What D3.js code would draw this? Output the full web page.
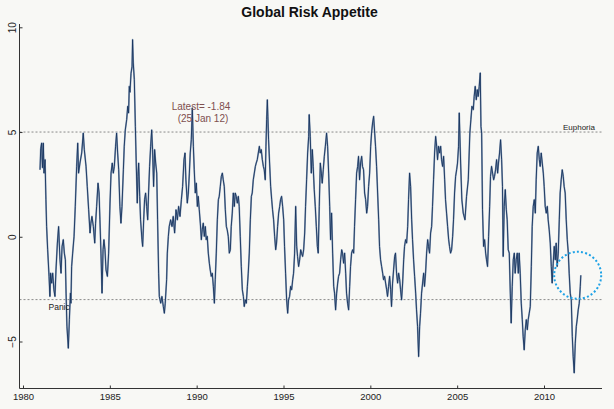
<!DOCTYPE html>
<html><head><meta charset="utf-8">
<script src="https://cdn.jsdelivr.net/npm/d3@7"></script>
<style>
html,body{margin:0;padding:0;background:#f8f8f5;}
svg{display:block;font-family:"Liberation Sans",Arial,Helvetica,sans-serif;}
</style>
</head><body>
<svg id="chart" width="614" height="409"></svg>
<script>
// ---- data (decimal years and index values) ----
const years = [
1980.98,1981.02,1981.07,1981.12,1981.17,1981.21,1981.27,1981.32,1981.36,1981.42,
1981.50,1981.55,1981.59,1981.65,1981.71,1981.78,1981.84,1981.90,1981.98,1982.05,
1982.13,1982.19,1982.25,1982.32,1982.38,1982.44,1982.48,1982.53,1982.61,1982.67,
1982.73,1982.76,1982.80,1982.86,1982.94,1983.01,1983.09,1983.15,1983.20,1983.28,
1983.38,1983.47,1983.53,1983.63,1983.70,1983.78,1983.86,1983.91,1983.97,1984.05,
1984.13,1984.18,1984.24,1984.32,1984.38,1984.43,1984.49,1984.55,1984.61,1984.66,
1984.72,1984.78,1984.86,1984.93,1985.01,1985.07,1985.14,1985.20,1985.26,1985.33,
1985.39,1985.45,1985.51,1985.58,1985.64,1985.70,1985.78,1985.83,1985.89,1985.97,
1986.03,1986.08,1986.12,1986.16,1986.22,1986.28,1986.31,1986.35,1986.41,1986.47,
1986.52,1986.58,1986.62,1986.66,1986.72,1986.77,1986.85,1986.89,1986.95,1987.00,
1987.06,1987.12,1987.18,1987.23,1987.29,1987.35,1987.41,1987.46,1987.52,1987.58,
1987.64,1987.70,1987.75,1987.81,1987.85,
1987.93,1988.00,1988.08,1988.14,1988.19,1988.27,1988.31,1988.37,1988.42,1988.50,
1988.58,1988.65,1988.73,1988.81,1988.89,1988.96,1989.04,1989.12,1989.19,1989.27,
1989.33,1989.38,1989.46,1989.52,1989.58,1989.63,1989.69,1989.75,1989.81,1989.86,
1989.92,1989.98,1990.04,1990.09,1990.15,1990.21,1990.27,1990.32,1990.38,1990.44,
1990.50,1990.55,1990.61,1990.67,1990.73,1990.78,1990.84,1990.90,1990.96,1991.02,
1991.07,1991.13,1991.19,1991.25,1991.30,1991.36,1991.42,1991.48,1991.53,1991.59,
1991.65,1991.71,1991.76,1991.82,1991.88,1991.94,1991.99,1992.05,1992.11,1992.17,
1992.22,1992.28,1992.34,1992.40,1992.45,1992.51,1992.57,1992.63,1992.69,1992.74,
1992.80,1992.86,1992.92,1992.97,1993.03,1993.09,1993.15,1993.20,1993.26,1993.32,
1993.38,1993.43,1993.49,1993.55,1993.61,1993.66,1993.72,1993.78,1993.84,1993.89,
1993.95,1993.99,1994.03,1994.07,1994.10,1994.14,1994.20,1994.26,1994.32,1994.37,
1994.43,1994.49,1994.55,1994.60,1994.66,1994.72,1994.78,1994.83,1994.89,1994.95,
1995.01,1995.06,1995.12,1995.18,1995.24,1995.29,1995.35,1995.41,1995.47,1995.53,
1995.58,1995.64,1995.70,1995.76,1995.81,1995.87,1995.93,1995.99,1996.04,1996.10,
1996.16,1996.22,1996.27,1996.33,1996.39,1996.45,
1996.48,1996.54,1996.60,1996.66,1996.71,1996.77,1996.83,1996.89,1996.95,1997.00,
1997.06,1997.12,1997.18,1997.23,1997.29,1997.35,1997.41,1997.48,1997.54,1997.60,
1997.66,1997.71,1997.77,1997.83,1997.89,1997.94,1998.00,1998.06,1998.12,1998.17,
1998.23,1998.29,1998.35,1998.40,1998.46,1998.52,1998.58,1998.63,1998.69,1998.75,
1998.81,1998.86,1998.92,1998.98,1999.04,1999.09,1999.15,1999.21,1999.27,1999.32,
1999.38,1999.44,1999.50,1999.55,1999.61,1999.67,1999.73,1999.79,1999.84,1999.90,
1999.96,2000.02,2000.07,2000.13,2000.19,2000.25,2000.30,2000.36,2000.42,2000.48,
2000.53,2000.59,2000.65,2000.71,2000.76,2000.82,2000.88,2000.94,2000.99,2001.05,
2001.11,2001.17,2001.22,2001.28,2001.34,2001.40,2001.45,2001.51,2001.57,2001.63,
2001.69,2001.74,2001.80,2001.86,2001.92,2001.97,2002.03,2002.09,2002.15,2002.20,
2002.26,2002.32,2002.38,2002.43,2002.49,2002.55,2002.61,2002.66,2002.72,2002.78,
2002.84,2002.89,2002.95,2003.01,2003.07,2003.12,2003.18,2003.24,2003.30,2003.35,
2003.41,2003.47,2003.53,2003.58,2003.64,2003.70,2003.76,2003.82,2003.87,2003.93,
2003.99,2004.05,2004.10,2004.16,2004.22,2004.28,2004.33,2004.39,2004.45,2004.51,
2004.56,2004.62,2004.68,2004.74,2004.79,2004.85,2004.91,2004.97,2005.02,2005.08,
2005.12,2005.20,2005.27,2005.35,2005.45,2005.54,2005.64,2005.73,2005.79,2005.85,
2005.93,2005.98,2006.04,2006.10,2006.16,2006.21,2006.27,2006.33,2006.37,2006.41,
2006.46,2006.52,2006.58,2006.64,2006.69,2006.75,2006.81,2006.87,2006.92,2006.98,
2007.04,2007.10,2007.15,2007.21,2007.27,2007.33,2007.38,2007.44,2007.50,2007.56,
2007.61,2007.65,2007.71,2007.77,2007.83,2007.88,2007.94,2008.00,2008.06,2008.11,
2008.17,2008.23,2008.29,2008.34,2008.40,2008.46,2008.52,2008.57,2008.63,2008.69,
2008.75,2008.80,2008.86,2008.92,2008.98,2009.04,2009.09,2009.15,2009.21,2009.27,
2009.32,2009.38,2009.44,2009.50,2009.55,2009.61,2009.67,2009.73,2009.78,2009.84,
2009.90,2009.96,2010.01,2010.07,2010.13,2010.19,2010.24,2010.30,2010.36,2010.42,
2010.47,2010.53,2010.59,2010.65,2010.70,2010.76,2010.82,2010.88,2010.93,2010.99,
2011.05,2011.11,2011.16,2011.22,2011.28,2011.34,2011.40,2011.45,2011.51,2011.57,
2011.63,2011.68,2011.74,2011.80,2011.86,2011.91,2011.97,2012.03,2012.09,2012.12
];
const riskAppetite = [
3.20,4.2,4.47,3.3,4.47,3.04,3.68,1.77,0.49,-0.62,
-1.89,-2.85,-1.74,-2.21,-1.74,-2.53,-2.85,-1.58,-0.30,0.49,
-1.10,-1.74,-0.46,-0.14,-0.78,-1.10,-2.69,-4.28,-5.32,-3.96,
-2.69,-3.17,-1.42,-0.78,0.02,1.45,3.36,4.47,3.04,3.52,
4.00,4.95,4.16,3.36,2.40,1.29,0.18,0.65,0.97,0.49,
-0.30,0.65,1.45,2.56,2.09,0.81,-0.78,-2.69,-0.62,-0.14,
-0.62,-1.58,-1.89,-0.78,1.61,3.04,3.52,3.04,3.36,4.32,
4.95,4.00,3.20,1.45,0.65,1.45,3.20,4.32,5.10,5.59,
6.23,5.91,7.18,6.9,7.8,8.14,9.41,8.30,7.50,5.27,
3.52,1.61,2.88,3.52,1.93,0.81,-0.14,-0.46,0.81,1.77,
2.09,1.45,0.81,2.09,3.36,4.32,5.10,4.16,2.40,4.16,
3.52,3.04,0.81,-1.74,-2.85,
-3.17,-2.85,-3.33,-3.65,-3.17,-2.05,-0.78,0.02,0.49,0.81,
0.49,0.97,0.18,1.29,0.81,1.45,0.97,1.77,2.40,3.68,
4.00,2.72,1.61,2.09,3.04,4.00,4.63,6.15,4.32,3.20,
2.09,2.56,1.45,1.93,1.29,0.65,-0.14,0.33,0.65,0.02,
0.49,-0.14,0.02,-0.78,-1.26,-1.58,-1.89,-1.74,-2.37,-3.17,
-2.05,-0.78,0.81,1.77,1.93,2.40,2.88,3.04,2.72,2.40,
1.29,0.49,0.33,0.02,-0.78,-0.62,0.49,1.13,2.09,1.45,
2.09,1.93,1.61,1.93,1.45,0.02,-1.42,-2.53,-2.85,-3.33,
-3.01,-3.17,-2.37,-1.74,-0.78,0.81,1.93,2.09,2.72,3.04,
3.36,3.52,3.68,4.00,4.32,4.00,4.16,3.68,3.36,3.20,
2.72,4.32,5.59,6.54,5.75,4.63,3.52,2.40,1.77,1.29,
0.81,0.02,-0.62,-0.30,0.49,1.13,1.45,1.77,1.93,1.45,
0.81,-0.46,-1.74,-3.01,-3.65,-3.01,-2.85,-2.37,-2.53,-2.05,
-1.74,-0.78,1.45,-0.46,-0.94,-1.42,-1.10,-0.62,-0.78,-0.94,
-0.62,0.18,1.45,2.72,4.00,4.79,
5.83,4.79,3.04,4.16,3.36,2.25,1.45,0.49,-0.46,-0.78,
1.45,3.52,3.04,2.56,3.20,3.84,4.32,4.95,4.32,3.04,
1.45,-0.14,1.13,-0.78,-2.37,-2.69,-3.49,-2.69,-2.21,-1.89,
-1.74,-1.10,-0.62,-0.78,-1.26,-0.78,-1.74,-2.69,-3.17,-3.49,
-2.37,-1.42,-0.78,-0.62,-0.78,0.49,1.77,3.04,3.36,3.84,
2.72,3.52,3.84,3.36,3.20,2.09,1.77,1.13,1.45,2.40,
3.04,4.32,4.95,5.43,5.75,4.95,4.32,3.36,2.09,0.81,
-0.46,-1.10,-1.42,-1.74,-2.05,-1.89,-2.21,-2.53,-2.85,-2.37,
-1.89,-2.53,-3.33,-2.21,-1.58,-0.94,-0.78,-1.74,-2.21,-1.74,
-2.05,-2.53,-3.01,-2.21,-1.10,-0.46,-0.14,-0.30,0.49,1.77,
3.04,2.40,0.81,-0.14,-1.10,-1.89,-2.69,-3.49,-4.28,-5.72,
-4.28,-3.65,-2.69,-2.21,-1.74,-2.37,-1.74,-0.78,-0.14,-0.46,
-0.78,0.18,0.49,1.45,2.72,4.00,4.79,4.32,3.68,4.32,
4.00,4.32,3.68,3.36,3.84,2.72,1.77,1.13,0.49,-0.14,
-0.46,-0.78,-0.62,0.02,0.81,2.09,2.88,3.20,3.52,4.32,
5.91,3.52,1.77,1.13,0.81,1.93,2.72,4.95,5.59,6.23,
6.07,6.70,7.18,6.54,7.02,6.70,7.18,7.82,5.27,4.95,
1.29,-0.46,-0.14,-0.78,-1.10,-1.42,0.02,1.45,2.88,3.36,
3.04,2.72,2.88,3.20,3.68,3.04,3.52,4.00,4.63,3.68,
2.40,-0.94,1.45,2.25,1.29,0.81,-0.62,-0.78,-2.69,-4.12,
-2.37,-1.10,-0.78,-1.74,-1.10,-0.78,-1.74,-0.78,-1.74,-3.17,
-3.96,-4.76,-5.40,-4.44,-3.96,-4.44,-3.96,-3.65,-3.33,-1.42,
0.49,1.45,1.77,1.13,2.72,4.00,4.32,3.68,3.36,4.00,
3.52,3.04,2.40,1.45,1.13,1.45,0.81,0.33,-0.30,-1.42,
-2.21,-1.26,-0.46,-1.10,-0.30,-1.42,-0.78,0.81,2.09,2.72,
3.20,2.88,2.40,2.09,0.81,-0.14,-0.78,-1.74,-2.69,-3.01,
-4.76,-5.72,-6.50,-5.08,-4.28,-3.96,-3.49,-3.17,-2.37,-1.84
];
const xTickValues = [1980, 1985, 1990, 1995, 2000, 2005, 2010];
const yTickValues = [-5, 0, 5, 10];
const thresholdValues = [5, -3];
const thresholdLabels = ["Euphoria", "Panic"];
const latestValue = -1.84;
const latestYear = 2011.94;
const latestLabel = ["Latest= -1.84", "(25 Jan 12)"];
const chartTitle = "Global Risk Appetite";

// ---- layout ----
const svg = d3.select("#chart");
const plotLeft = 19.5, plotRight = 602, plotTop = 24, plotBottom = 388.5;
const x = d3.scaleLinear().domain([1980, 2010]).range([23, 544]);
const y = d3.scaleLinear().domain([-5, 10]).range([341.5, 27.3]);

svg.append("rect").attr("width", 614).attr("height", 409).attr("fill", "#f8f8f5");

// title
svg.append("text").attr("x", 309.5).attr("y", 17)
  .attr("text-anchor", "middle").attr("font-size", 14).attr("font-weight", "bold")
  .attr("fill", "#111").text(chartTitle);

// threshold lines
svg.selectAll("line.thr").data(thresholdValues).enter().append("line")
  .attr("class", "thr")
  .attr("x1", plotLeft).attr("x2", plotRight)
  .attr("y1", d => y(d)).attr("y2", d => y(d))
  .attr("stroke", "#8a8a8a").attr("stroke-width", 1).attr("stroke-dasharray", "2,2");

// series
const pts = years.map((t, i) => [t, riskAppetite[i]]);
const line = d3.line().x(d => x(d[0])).y(d => y(d[1]));
svg.append("path").datum(pts).attr("d", line)
  .attr("fill", "none").attr("stroke", "#8ea1ba").attr("stroke-width", 1.7)
  .attr("stroke-linejoin", "round");
svg.append("path").datum(pts).attr("d", line)
  .attr("fill", "none").attr("stroke", "#16335e").attr("stroke-width", 0.9)
  .attr("stroke-linejoin", "round");

// axes (L-shaped box, inward ticks)
const axisColor = "#333";
svg.append("line").attr("x1", plotLeft).attr("x2", plotLeft).attr("y1", plotTop).attr("y2", plotBottom)
  .attr("stroke", axisColor).attr("stroke-width", 1);
svg.append("line").attr("x1", plotLeft).attr("x2", plotRight).attr("y1", plotBottom).attr("y2", plotBottom)
  .attr("stroke", axisColor).attr("stroke-width", 1);

const xAxis = d3.axisBottom(x).tickValues(xTickValues).tickSize(-3).tickFormat(d3.format("d")).tickPadding(5);
const gx = svg.append("g").attr("transform", `translate(0,${plotBottom})`).call(xAxis);
gx.select(".domain").remove();
gx.selectAll("line").attr("stroke", axisColor);
gx.selectAll("text").attr("font-size", 9.5).attr("fill", "#222")
  .attr("font-family", "'Liberation Sans',Arial,sans-serif");

const yAxis = d3.axisLeft(y).tickValues(yTickValues).tickSize(-3).tickPadding(4);
const gy = svg.append("g").attr("transform", `translate(${plotLeft},0)`).call(yAxis);
gy.select(".domain").remove();
gy.selectAll("line").attr("stroke", axisColor);
gy.selectAll("text")
  .attr("font-size", 10).attr("fill", "#222").attr("font-family", "'Liberation Sans',Arial,sans-serif")
  .attr("text-anchor", "middle").attr("dy", 0).attr("x", 0).attr("y", 0)
  .attr("transform", "translate(-4,0) rotate(-90)");

// threshold labels
svg.append("text").attr("x", 595).attr("y", y(thresholdValues[0]) - 2.5)
  .attr("text-anchor", "end").attr("font-size", 8).attr("fill", "#222").text(thresholdLabels[0]);
svg.append("text").attr("x", 48.5).attr("y", y(thresholdValues[1]) + 10)
  .attr("text-anchor", "start").attr("font-size", 8.5).attr("fill", "#222").text(thresholdLabels[1]);

// latest annotation
svg.append("text").attr("x", 201).attr("y", 110)
  .attr("text-anchor", "middle").attr("font-size", 10).attr("fill", "#7e4f4f").text(latestLabel[0]);
svg.append("text").attr("x", 203).attr("y", 122)
  .attr("text-anchor", "middle").attr("font-size", 10).attr("fill", "#7e4f4f").text(latestLabel[1]);

// dotted circle around latest point
svg.append("circle").attr("cx", x(latestYear)).attr("cy", y(latestValue)).attr("r", 23.5)
  .attr("fill", "none").attr("stroke", "#1ea2e6").attr("stroke-width", 2)
  .attr("stroke-dasharray", "2,2.2");
</script>
</body></html>
